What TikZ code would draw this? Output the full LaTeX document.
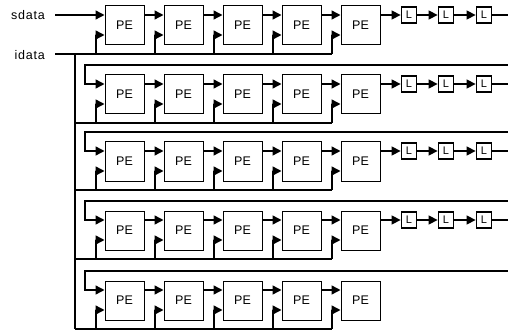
\documentclass[tikz,border=0pt]{standalone}
\usepackage{fontspec}
\setmainfont{Liberation Sans}
\newfontfamily\widefont[LetterSpace=6]{Liberation Sans}
\usetikzlibrary{arrows.meta}
\begin{document}
\begin{tikzpicture}[x=1pt,y=-1pt,
  pe/.style={draw,line width=1pt,minimum width=39pt,minimum height=39pt,inner sep=0pt,font=\fontsize{12.5}{12.5}\selectfont},
  lbox/.style={draw,line width=1.8pt,minimum width=15pt,minimum height=16pt,inner sep=0pt,font=\fontsize{11}{11}\selectfont},
  wire/.style={line width=1.4pt},
  arr/.style={wire,-{Triangle[length=9pt,width=9pt]}},
  lbl/.style={font=\widefont\fontsize{12.5}{12.5}\selectfont, anchor=east, inner sep=0pt}]
\useasboundingbox (0,0) rectangle (508,331);

% labels
\node[lbl] (sdata) at (45,15.5) {sdata};
\node[lbl] (idata) at (45,55) {idata};
\coordinate (s0) at (55,15);
\coordinate (i0) at (55,54);
\coordinate (bustop) at (75,54);
\coordinate (busbot) at (75,329);

% PE grid
\foreach \r/\t in {1/6,2/75,3/142,4/211,5/281} {
  \foreach \c in {1,...,5} {
    \node[pe] (p\r\c) at ({124.5+59*(\c-1)}, {\t+19.5}) {PE};
    \coordinate (b\r\c) at ({96+59*(\c-1)}, {\t+48});
    \draw[arr] (b\r\c) |- ([yshift=-9.5pt]p\r\c.west);
  }
  \foreach \c [evaluate=\c as \d using int(\c+1)] in {1,...,4} {
    \draw[arr] ([yshift=10.5pt]p\r\c.east) -- ([yshift=10.5pt]p\r\d.west);
  }
  \coordinate (a\r) at (75,{\t+48});
}

% bottom feed lines
\draw[wire] (i0) -- (b15);
\draw[wire] (bustop) -- (busbot);
\foreach \r in {2,...,5} {
  \draw[wire] (a\r) -- (b\r5);
}

% sdata input
\draw[arr] (s0) -- ([yshift=10.5pt]p11.west);

% feedback lines into first PE of rows 2..5
\foreach \r/\f in {2/65,3/132,4/201,5/271} {
  \coordinate (fr\r) at (508,\f);
  \coordinate (fl\r) at (85,\f);
  \draw[arr] (fr\r) -- (fl\r) |- ([yshift=10.5pt]p\r1.west);
}

% L chains
\foreach \r/\t in {1/6,2/75,3/142,4/211} {
  \node[lbox] (l\r1) at (409,{\t+9}) {L};
  \node[lbox] (l\r2) at (446,{\t+9}) {L};
  \node[lbox] (l\r3) at (484,{\t+9}) {L};
  \coordinate (e\r) at (508,{\t+9});
  \draw[arr] ([yshift=10.5pt]p\r5.east) -- (l\r1.west);
  \draw[arr] (l\r1) -- (l\r2);
  \draw[arr] (l\r2) -- (l\r3);
  \draw[wire] (l\r3) -- (e\r);
}
\end{tikzpicture}
\end{document}
